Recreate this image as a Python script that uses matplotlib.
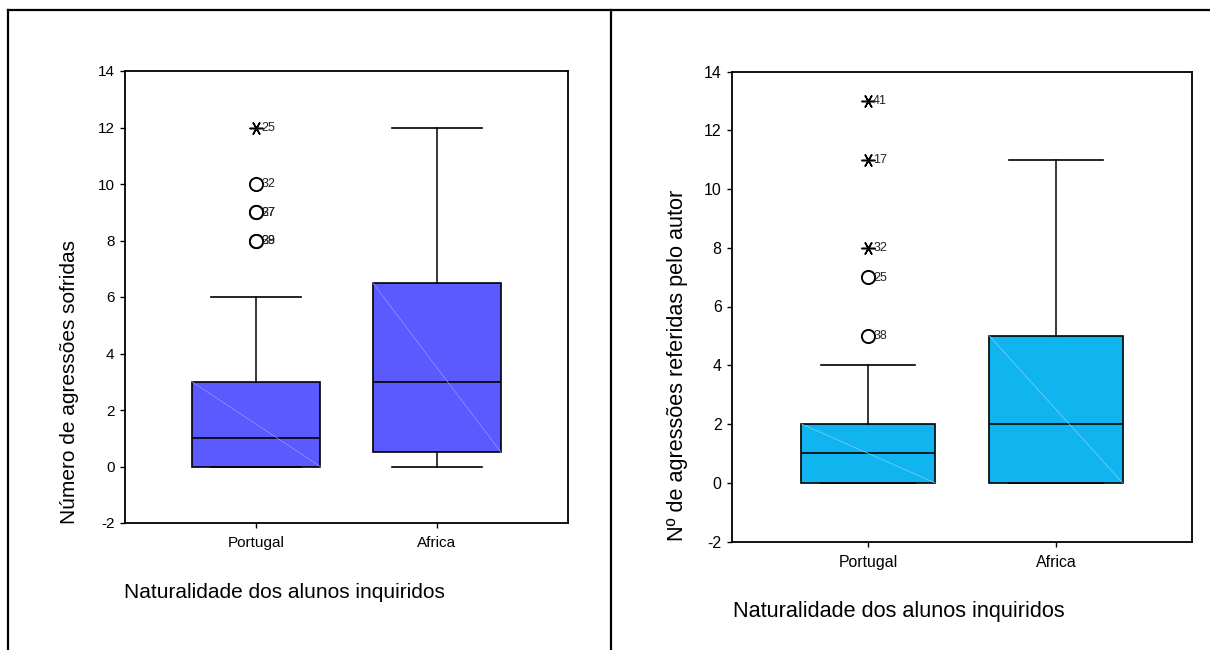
import matplotlib
matplotlib.use("Agg")
import matplotlib.pyplot as plt
from matplotlib.lines import Line2D

plt.rcParams["font.family"] = ["Liberation Sans", "DejaVu Sans"]

# ---- data -------------------------------------------------------------
groups = ["Portugal", "Africa"]
positions = [1, 2]

# Número de agressões sofridas
sofr_q1 = [0, 0.5]
sofr_med = [1, 3]
sofr_q3 = [3, 6.5]
sofr_lo = [0, 0]
sofr_hi = [6, 12]
sofr_out_grp = [0, 0, 0, 0, 0, 0]
sofr_out_val = [12, 10, 9, 9, 8, 8]
sofr_out_lab = ["25", "32", "37", "27", "38", "29"]
sofr_out_ext = [True, False, False, False, False, False]

# Nº de agressões referidas pelo autor
aut_q1 = [0, 0]
aut_med = [1, 2]
aut_q3 = [2, 5]
aut_lo = [0, 0]
aut_hi = [4, 11]
aut_out_grp = [0, 0, 0, 0, 0]
aut_out_val = [13, 11, 8, 7, 5]
aut_out_lab = ["41", "17", "32", "25", "38"]
aut_out_ext = [True, True, True, False, False]

yticks = [-2, 0, 2, 4, 6, 8, 10, 12, 14]

W, H = 1210, 650
fig = plt.figure(figsize=(W / 100, H / 100), dpi=100)


def fx(px):
    return px / W


def fy(py):
    return 1 - py / H


# outer frame: left edge, top edge and the divider between the two panels
for xs, ys in [((8, 8), (10, 650)), ((8, 1210), (10, 10)), ((611, 611), (10, 650))]:
    fig.add_artist(Line2D([fx(x) for x in xs], [fy(y) for y in ys],
                          color="black", lw=1.6, solid_capstyle="projecting"))


def panel(rect, q1, med, q3, lo, hi, og, ov, ol, oe, fill, diag, fs):
    ax = fig.add_axes(rect)
    stats = []
    for i in range(len(groups)):
        stats.append(dict(q1=q1[i], med=med[i], q3=q3[i],
                          whislo=lo[i], whishi=hi[i], fliers=[]))
    ax.bxp(stats, positions=positions, widths=0.71, capwidths=0.5,
           patch_artist=True, showfliers=False,
           boxprops=dict(facecolor=fill, edgecolor="black", lw=1.2),
           medianprops=dict(color="black", lw=1.2),
           whiskerprops=dict(color="black", lw=1.1),
           capprops=dict(color="black", lw=1.2))
    # faint diagonal seam across each box
    for p, a, b in zip(positions, q3, q1):
        ax.plot([p - 0.355, p + 0.355], [a, b], color=diag, lw=0.5, zorder=3)
    # outliers: circles, extremes: asterisks
    for g, v, lab, ext in zip(og, ov, ol, oe):
        x = positions[g]
        if ext:
            ax.plot(x, v, marker=(6, 2, 90), ms=10, color="black",
                    mew=1.1, ls="none", zorder=4)
        else:
            ax.plot(x, v, marker="o", ms=9.5, mfc="white", mec="black",
                    mew=1.4, ls="none", zorder=4)
        ax.annotate(lab, (x, v), xytext=(3.6, -0.3), textcoords="offset points",
                    va="center", ha="left", fontsize=9, color="#222222",
                    zorder=5)
    ax.set_xlim(0.275, 2.725)
    ax.set_ylim(-2, 14)
    ax.set_yticks(yticks)
    ax.set_yticklabels([str(t) for t in yticks])
    ax.set_xticks(positions)
    ax.set_xticklabels(groups)
    ax.tick_params(axis="both", labelsize=fs, length=3.5, width=1.0,
                   color="black", direction="out")
    ax.tick_params(axis="y", pad=4)
    ax.tick_params(axis="x", pad=6)
    for s in ax.spines.values():
        s.set_linewidth(1.3)
    return ax


panel([fx(125), fy(523), fx(568) - fx(125), fy(71) - fy(523)],
      sofr_q1, sofr_med, sofr_q3, sofr_lo, sofr_hi,
      sofr_out_grp, sofr_out_val, sofr_out_lab, sofr_out_ext,
      "#5a5aff", "#9696ff", 11)

panel([fx(732), fy(541.5), fx(1192) - fx(732), fy(71.5) - fy(541.5)],
      aut_q1, aut_med, aut_q3, aut_lo, aut_hi,
      aut_out_grp, aut_out_val, aut_out_lab, aut_out_ext,
      "#10b4ee", "#7fd4f4", 11.4)

# axis titles
fig.text(fx(70), fy(382), "Número de agressões sofridas", rotation=90,
         ha="center", va="center", fontsize=15)
fig.text(fx(124), fy(592), "Naturalidade dos alunos inquiridos",
         ha="left", va="center", fontsize=15)
fig.text(fx(677), fy(365), "Nº de agressões referidas pelo autor", rotation=90,
         ha="center", va="center", fontsize=15.6)
fig.text(fx(733), fy(611), "Naturalidade dos alunos inquiridos",
         ha="left", va="center", fontsize=15.6)

fig.savefig("out.png", dpi=100, facecolor="white")
